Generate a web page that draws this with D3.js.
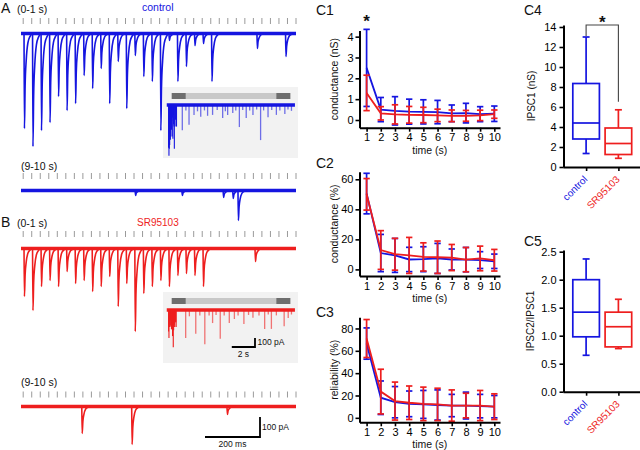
<!DOCTYPE html>
<html><head><meta charset="utf-8">
<script src="https://cdn.jsdelivr.net/npm/d3@7"></script>
<style>body{margin:0;background:#fff} svg{display:block;font-family:"Liberation Sans",Arial,sans-serif}</style>
</head><body><svg id="fig" width="640" height="450"></svg>
<script>
// ================= DATA =================
const BLUE = "#1515e0", RED = "#ee1e1e";
// stimulation train (30+ Hz), tick marks above the traces
const stimCount = 33, stimStart = 0.008, stimInterval = 0.031; // s
const stimTimes = d3.range(stimCount).map(i => stimStart + i * stimInterval);
// evoked IPSC amplitudes (pA) per stimulus, first second
const evokedA0 = [475,565,485,445,315,385,350,210,275,175,350,140,375,110,215,240,485,35,240,165,60,50,240];
const evokedB0 = [240,310,190,160,190,115,175,160,215,190,140,290,175,415,225,190,160,190,135,125,135,190];
// spontaneous / asynchronous events [time s, amplitude pA]
const spontA0 = [[0.858,75],[0.962,115]];
const spontB0 = [[0.851,65]];
const spontA9 = [[0.415,25],[0.585,25],[0.735,35],[0.77,40],[0.789,150]];
const spontB9 = [[0.221,135],[0.4025,190],[0.749,40]];
// inset (whole 10 s train) events [time s, amplitude pA]
const insetA = [[1.19,280],[1.5,60],[1.77,220],[2.2,110],[2.5,70],[2.78,130],[3.1,60],[3.37,120],[3.8,110],[4.2,55],[4.67,145],[4.9,70],[5.1,110],[5.54,90],[5.8,60],[6.11,245],[6.4,55],[6.7,145],[7.0,60],[7.28,110],[7.6,50],[7.94,390],[8.2,60],[8.58,135],[8.9,55],[9.3,110],[9.6,60],[10.03,100],[10.3,50],[10.6,65]];
const insetB = [[1.48,310],[1.8,70],[2.35,265],[2.7,60],[3.13,380],[3.5,60],[3.8,145],[4.1,55],[4.46,320],[4.8,60],[5.24,145],[5.68,100],[6.0,60],[6.5,155],[6.9,55],[7.28,85],[7.8,60],[8.29,210],[8.6,50],[8.87,210],[9.3,60],[9.97,180],[10.32,90],[10.6,50]];
const insetBar = [0.28, 10.5], insetWindow = 1.2; // s

// C1-C3: time points and mean +/- error
const times = [1,2,3,4,5,6,7,8,9,10];
const c1Ctrl = [2.5,0.5,0.44,0.4,0.39,0.38,0.32,0.33,0.28,0.3];
const c1CtrlErr = [1.85,0.58,0.68,0.6,0.58,0.56,0.4,0.47,0.36,0.37];
const c1SR = [1.3,0.32,0.27,0.25,0.24,0.22,0.2,0.2,0.22,0.28];
const c1SRErr = [0.85,0.32,0.46,0.4,0.37,0.3,0.28,0.26,0.25,0.2];
const c2Ctrl = [50.5,10.9,9.3,6.6,6.8,7.3,6.6,6.5,6.2,5.4];
const c2CtrlErr = [13.5,12.4,11.3,8.1,8.3,10,7,8.1,5.6,4.8];
const c2SR = [50,12.9,10.1,9.3,8.3,8.1,7.9,6.5,7.3,6.1];
const c2SRErr = [10.5,12.9,10.6,12,9.4,10.8,8.7,8.1,8.2,7.2];
const c3Ctrl = [66.5,18,14,12.5,12,11.5,11,11,10.5,10];
const c3CtrlErr = [14,15,14,11.5,12.5,13.5,10,12,10.5,10];
const c3SR = [71,23.5,15,13.5,12.5,12,11,11,11,10];
const c3SRErr = [17,20,17,15,15,14.5,14,11,13.5,11.5];

// C4-C5 box plots [min, q1, median, q3, max]
const groups = ["control","SR95103"];
const c4Stats = [[1.35,2.8,4.4,8.35,13.0],[0.87,1.25,2.35,3.9,5.72]];
const c5Stats = [[0.65,0.98,1.42,2.0,2.37],[0.77,0.8,1.16,1.42,1.65]];
const c4Ticks = [0,2,4,6,8,10,12,14];
const c5Ticks = [0,0.5,1,1.5,2,2.5];

// ================= DRAWING =================
const svg = d3.select("#fig");
function text(g, x, y, s, o = {}) {
  const t = g.append("text").attr("x", x).attr("y", y).text(s)
    .attr("font-size", o.size || 10.5).attr("fill", o.fill || "#111")
    .attr("text-anchor", o.anchor || "start");
  if (o.weight) t.attr("font-weight", o.weight);
  if (o.rotate !== undefined) t.attr("transform", `rotate(${o.rotate},${x},${y})`);
  return t;
}

// ---- traces ----
const traceX = d3.scaleLinear().domain([0, 1]).range([21, 296]);
const ampMain = d3.scaleLinear().domain([0, 100]).range([0, 20]);
const template = [[0,0],[0.0015,1],[0.004,0.55],[0.008,0.28],[0.014,0.1],[0.022,0.03],[0.03,0]];
const lat = 0.003;
const evLine = d3.line().curve(d3.curveMonotoneX);

function stimTicks(y) {
  svg.append("g").selectAll("line").data(stimTimes).join("line")
    .attr("x1", d => traceX(d)).attr("x2", d => traceX(d))
    .attr("y1", y).attr("y2", y + 6).attr("stroke", "#9a9a9a").attr("stroke-width", 1);
}
function trace(y0, color, events) {
  const g = svg.append("g");
  g.append("line").attr("x1", traceX(0)).attr("x2", traceX(1)).attr("y1", y0).attr("y2", y0)
    .attr("stroke", color).attr("stroke-width", 3.6);
  g.selectAll("path").data(events).join("path")
    .attr("d", ([t, a]) => evLine(template.map(([dt, f]) => [traceX(t + dt), y0 + ampMain(a * f)])))
    .attr("fill", "none").attr("stroke", color).attr("stroke-width", 1.6);
}
const evA0 = evokedA0.map((a, i) => [stimTimes[i] + lat, a]).concat(spontA0);
const evB0 = evokedB0.map((a, i) => [stimTimes[i] + lat, a]).concat(spontB0);

// Insets
const insetX = d3.scaleLinear().domain([0, 1]).range([168.5, 180.1]);
const ampInset = d3.scaleLinear().domain([0, 100]).range([0, 9]);
function inset(yTop, color, evoked, spont) {
  const g = svg.append("g");
  g.append("rect").attr("x", 163).attr("y", yTop).attr("width", 135).attr("height", 71).attr("fill", "#f2f2f2");
  const by = yTop + 6;
  g.append("rect").attr("x", insetX(insetBar[0])).attr("y", by).attr("width", insetX(insetBar[1]) - insetX(insetBar[0])).attr("height", 6).attr("fill", "#c8c8c8");
  g.append("rect").attr("x", insetX(insetBar[0])).attr("y", by).attr("width", insetX(insetWindow) - insetX(0)).attr("height", 6).attr("fill", "#6e6e6e");
  g.append("rect").attr("x", insetX(insetBar[1]) - (insetX(insetWindow) - insetX(0))).attr("y", by).attr("width", insetX(insetWindow) - insetX(0)).attr("height", 6).attr("fill", "#6e6e6e");
  const y0 = yTop + 18;
  g.append("line").attr("x1", insetX(-0.15)).attr("x2", insetX(10.9)).attr("y1", y0).attr("y2", y0)
    .attr("stroke", color).attr("stroke-width", 3.5);
  g.selectAll("line.sp").data(spont).join("line").attr("class", "sp")
    .attr("x1", d => insetX(d[0])).attr("x2", d => insetX(d[0]))
    .attr("y1", y0).attr("y2", d => y0 + ampInset(d[1]))
    .attr("stroke", color).attr("stroke-opacity", 0.6).attr("stroke-width", 1.3);
  g.selectAll("line.ev").data(evoked).join("line").attr("class", "ev")
    .attr("x1", (d, i) => insetX(stimTimes[i])).attr("x2", (d, i) => insetX(stimTimes[i]))
    .attr("y1", y0).attr("y2", d => y0 + ampInset(d))
    .attr("stroke", color).attr("stroke-width", 1.1);
}

// Panel A
text(svg, 1, 13, "A", { size: 14 });
text(svg, 17, 13, "(0-1 s)", { size: 10.5 });
text(svg, 142, 11, "control", { size: 10.5, fill: BLUE });
stimTicks(18);
inset(87, BLUE, evokedA0, insetA);
trace(33.5, BLUE, evA0);
text(svg, 21, 170, "(9-10 s)", { size: 10.5 });
stimTicks(173);
trace(190.5, BLUE, spontA9);

// Panel B
text(svg, 1, 227, "B", { size: 14 });
text(svg, 17, 227, "(0-1 s)", { size: 10.5 });
text(svg, 137, 226, "SR95103", { size: 10, fill: RED });
stimTicks(231);
inset(292, RED, evokedB0, insetB);
trace(248.5, RED, evB0);
text(svg, 21, 386, "(9-10 s)", { size: 10.5 });
stimTicks(391.5);
trace(406.5, RED, spontB9);

// scale bars
(function () {
  const g = svg.append("g").attr("stroke", "#000").attr("stroke-width", 1.8).attr("fill", "none");
  const sx = 255, sy = 347;
  g.append("path").attr("d", `M${sx - (insetX(2) - insetX(0))},${sy}H${sx}V${sy - ampInset(100)}`);
  text(svg, 257.5, 345, "100 pA", { size: 8.5 });
  text(svg, sx - (insetX(2) - insetX(0)) / 2, 357, "2 s", { size: 8.5, anchor: "middle" });
  const mx = 260, my = 437;
  g.append("path").attr("d", `M${mx - (traceX(0.2) - traceX(0))},${my}H${mx}V${my - ampMain(100)}`);
  text(svg, 262, 430, "100 pA", { size: 8.5 });
  text(svg, mx - (traceX(0.2) - traceX(0)) / 2, 447, "200 ms", { size: 8.5, anchor: "middle" });
})();

// ---- C1-C3 line plots ----
const xC = d3.scaleLinear().domain([0.5, 10.4]).range([359.5, 500]);
function styleAxis(a) {
  a.select(".domain").attr("stroke", "#000").attr("stroke-width", 2);
  a.selectAll(".tick line").attr("stroke", "#000").attr("stroke-width", 1.6);
  a.selectAll(".tick text").attr("font-size", 11).attr("fill", "#000")
    .attr("font-family", "Liberation Sans, Arial, sans-serif");
}
function linePanel(cfg) {
  const y = d3.scaleLinear().domain(cfg.domain).range(cfg.range);
  const g = svg.append("g");
  const series = [[cfg.ctrl, cfg.ctrlErr, BLUE], [cfg.sr, cfg.srErr, RED]];
  series.forEach(([m, e, c]) => {
    const eg = g.append("g").attr("stroke", c).attr("stroke-width", 1.7);
    times.forEach((t, i) => {
      const x = xC(t);
      eg.append("line").attr("x1", x).attr("x2", x).attr("y1", y(m[i] - e[i])).attr("y2", y(m[i] + e[i]));
      eg.append("line").attr("x1", x - 3.2).attr("x2", x + 3.2).attr("y1", y(m[i] + e[i])).attr("y2", y(m[i] + e[i]));
      eg.append("line").attr("x1", x - 3.2).attr("x2", x + 3.2).attr("y1", y(m[i] - e[i])).attr("y2", y(m[i] - e[i]));
    });
    g.append("path").datum(m).attr("fill", "none").attr("stroke", c).attr("stroke-width", 1.8)
      .attr("d", d3.line().x((d, i) => xC(times[i])).y(d => y(d)));
  });
  const ya = svg.append("g").attr("transform", `translate(${xC.range()[0]},0)`)
    .call(d3.axisLeft(y).tickValues(cfg.ticks).tickSize(4).tickSizeOuter(0).tickPadding(2).tickFormat(d3.format("d")));
  styleAxis(ya);
  const y0 = y(cfg.domain[0]);
  const xa = svg.append("g").attr("transform", `translate(0,${y0})`)
    .call(d3.axisBottom(xC).tickValues(times).tickSize(4).tickSizeOuter(0).tickPadding(2).tickFormat(d3.format("d")));
  styleAxis(xa);
  text(svg, (xC.range()[0] + xC.range()[1]) / 2, y0 + 26, "time (s)", { size: 10.5, anchor: "middle" });
  text(svg, 338, (cfg.range[0] + cfg.range[1]) / 2, cfg.label, { size: 10.5, anchor: "middle", rotate: -90 });
  text(svg, 316, cfg.labelY, cfg.name, { size: 14 });
}
linePanel({ name: "C1", labelY: 15, label: "conductance (nS)", domain: [-0.37, 4.3], range: [127.7, 30.4], ticks: [0,1,2,3,4], ctrl: c1Ctrl, ctrlErr: c1CtrlErr, sr: c1SR, srErr: c1SRErr });
linePanel({ name: "C2", labelY: 168, label: "conductance (%)", domain: [-4.4, 65], range: [276, 171.8], ticks: [0,20,40,60], ctrl: c2Ctrl, ctrlErr: c2CtrlErr, sr: c2SR, srErr: c2SRErr });
linePanel({ name: "C3", labelY: 317, label: "reliability (%)", domain: [-4, 90], range: [422.3, 317.3], ticks: [0,20,40,60,80], ctrl: c3Ctrl, ctrlErr: c3CtrlErr, sr: c3SR, srErr: c3SRErr });
text(svg, xC(1), 27, "*", { size: 17, anchor: "middle", weight: "bold" });

// ---- C4-C5 box plots ----
const xB = d3.scalePoint().domain(groups).range([563.5, 641]).padding(0.7);
const boxColors = [BLUE, RED];
function boxPanel(cfg) {
  const y = d3.scaleLinear().domain(cfg.domain).range(cfg.range);
  const g = svg.append("g").attr("fill", "none").attr("stroke-width", 1.7);
  cfg.stats.forEach((s, i) => {
    const x = xB(groups[i]), c = boxColors[i], hw = 13.3, cw = 3.5;
    const bg = g.append("g").attr("stroke", c);
    bg.append("line").attr("x1", x).attr("x2", x).attr("y1", y(s[0])).attr("y2", y(s[1]));
    bg.append("line").attr("x1", x).attr("x2", x).attr("y1", y(s[3])).attr("y2", y(s[4]));
    bg.append("line").attr("x1", x - cw).attr("x2", x + cw).attr("y1", y(s[0])).attr("y2", y(s[0]));
    bg.append("line").attr("x1", x - cw).attr("x2", x + cw).attr("y1", y(s[4])).attr("y2", y(s[4]));
    bg.append("rect").attr("x", x - hw).attr("width", 2 * hw).attr("y", y(s[3])).attr("height", y(s[1]) - y(s[3]));
    bg.append("line").attr("x1", x - hw).attr("x2", x + hw).attr("y1", y(s[2])).attr("y2", y(s[2]));
  });
  const ya = svg.append("g").attr("transform", `translate(563.5,0)`)
    .call(d3.axisLeft(y).tickValues(cfg.ticks).tickSize(4).tickSizeOuter(0).tickPadding(3).tickFormat(cfg.fmt));
  styleAxis(ya);
  const y0 = y(0);
  const xa = svg.append("g").attr("transform", `translate(0,${y0})`)
    .call(d3.axisBottom(xB).tickSize(4).tickSizeOuter(0).tickFormat(""));
  styleAxis(xa);
  xa.select(".domain").attr("d", `M563.5,0.5H640`);
  groups.forEach((gname, i) => {
    const ax = xB(gname) + 2, ay = y0 + 13;
    text(svg, ax, ay, gname, { size: 10, fill: boxColors[i], anchor: "end", rotate: -45 });
  });
  text(svg, cfg.labelX, (cfg.range[0] + cfg.range[1]) / 2, cfg.label, { size: 10, anchor: "middle", rotate: -90 });
  text(svg, 524, cfg.nameY, cfg.name, { size: 14 });
  return y;
}
const yC4 = boxPanel({ name: "C4", nameY: 15, label: "IPSC1 (nS)", labelX: 535, domain: [0, 14.2], range: [167, 25], ticks: c4Ticks, fmt: d3.format("d"), stats: c4Stats });
boxPanel({ name: "C5", nameY: 246, label: "IPSC2/IPSC1", labelX: 534, domain: [0, 2.53], range: [391.7, 250], ticks: c5Ticks, fmt: d3.format(".1f"), stats: c5Stats });
(function () {
  const x1 = xB(groups[0]), x2 = xB(groups[1]), top = 25;
  svg.append("path").attr("d", `M${x1},${yC4(c4Stats[0][4]) - 1}V${top}H${x2}V${yC4(c4Stats[1][4]) - 8}`)
    .attr("fill", "none").attr("stroke", "#444").attr("stroke-width", 1.1);
  text(svg, (x1 + x2) / 2, 28, "*", { size: 17, anchor: "middle", weight: "bold" });
})();
</script></body></html>
